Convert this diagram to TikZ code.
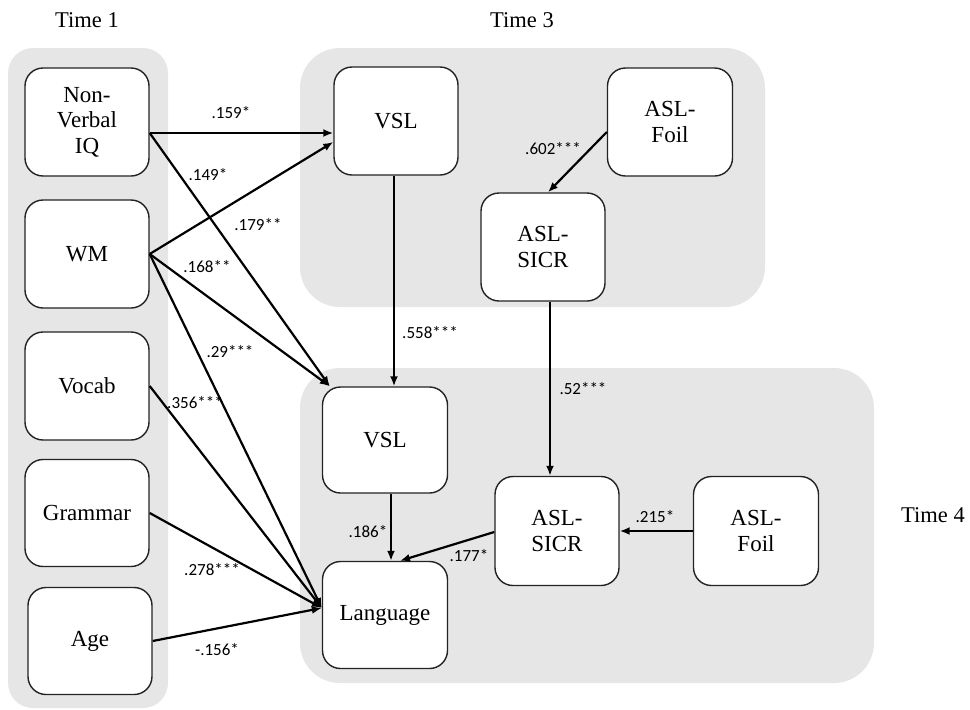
\documentclass[tikz,border=0pt]{standalone}
\usepackage{fontspec}
\setmainfont{Liberation Serif}
\newfontfamily\lblfont{Carlito}
\usetikzlibrary{arrows.meta,calc}
\definecolor{panelgray}{RGB}{230,230,230}
\definecolor{boxline}{RGB}{35,35,35}
\tikzset{
  panel/.style={fill=panelgray, draw=none},
  varbox/.style={draw=boxline, line width=1.4pt, fill=white, rounded corners=18pt,
    minimum width=124pt, minimum height=108pt, inner sep=0pt, align=center,
    font=\fontsize{23}{25.5}\selectfont},
  path/.style={line width=2.2pt, -{Latex[length=10pt,width=8pt]}},
  lbl/.style={font=\lblfont\fontsize{17}{19}\selectfont, inner sep=1pt},
  timelbl/.style={font=\fontsize{22.5}{25}\selectfont, inner sep=0pt}
}
\begin{document}
\begin{tikzpicture}[x=1pt,y=-1pt]
\useasboundingbox (0,0) rectangle (970,710);
% panels
\fill[panel, rounded corners=25pt] (8,48) rectangle (168,708);
\fill[panel, rounded corners=40pt] (300,48) rectangle (765,307);
\fill[panel, rounded corners=40pt] (300,368) rectangle (874,683);
% time labels
\node[timelbl] (t1) at (87,20) {Time 1};
\node[timelbl] (t3) at (522,20) {Time 3};
\node[timelbl] (t4) at (933,515) {Time 4};
% Time 1 boxes
\node[varbox] (nviq) at (87,122) {Non-\\Verbal\\IQ};
\node[varbox] (wm) at (87,254) {WM};
\node[varbox] (vocab) at (87,386) {Vocab};
\node[varbox, minimum height=107pt] (grammar) at (87,513) {Grammar};
\node[varbox, minimum height=107pt] (age) at (90,641) {Age};
% Time 3 boxes
\node[varbox] (vsl3) at (396,121) {VSL};
\node[varbox, minimum width=125pt] (foil3) at (670,122) {ASL-\\Foil};
\node[varbox] (sicr3) at (543,247) {ASL-\\SICR};
% Time 4 boxes
\node[varbox, minimum width=125pt, minimum height=106pt] (vsl4) at (385,440) {VSL};
\node[varbox, minimum width=125pt, minimum height=107pt] (lang) at (385,615) {Language};
\node[varbox, minimum height=109pt] (sicr4) at (557,531) {ASL-\\SICR};
\node[varbox, minimum width=125pt, minimum height=109pt] (foil4) at (756,531) {ASL-\\Foil};
% targets
\coordinate (langin) at ([yshift=7pt]lang.west);
\coordinate (vsl4in) at ([xshift=8pt]vsl4.north west);
% paths
\draw[path] ([yshift=-11pt]nviq.east) -- ([yshift=-12pt]vsl3.west);
\draw[path] ([yshift=-11pt]nviq.east) -- (vsl4in);
\draw[path] (wm.east) -- ([yshift=-21pt]vsl3.west);
\draw[path] (wm.east) -- (vsl4in);
\draw[path] (wm.east) -- (langin);
\draw[path] (vocab.east) -- (langin);
\draw[path] (grammar.east) -- (langin);
\draw[path] (age.east) -- (langin);
\draw[path] ([xshift=-2pt]vsl3.south) -- ([xshift=-2pt]vsl3.south |- vsl4.north);
\draw[path] ([xshift=6pt]vsl4.south) -- ([xshift=6pt]lang.north);
\draw[path] ([yshift=-1pt]sicr4.west) -- ([xshift=15pt]lang.north);
\draw[path] ([xshift=7pt]sicr3.south) -- ([xshift=7pt]sicr3.south |- sicr4.north);
\draw[path] (foil4.west) -- (sicr4.east);
\draw[path] ([yshift=-10pt]foil3.west) -- ([xshift=5pt]sicr3.north);
% labels
\node[lbl] (l1) at (231,113) {.159*};
\node[lbl] (l2) at (208,175) {.149*};
\node[lbl] (l3) at (258,225) {.179**};
\node[lbl] (l4) at (207,267) {.168**};
\node[lbl] (l5) at (230,352) {.29***};
\node[lbl] (l6) at (195,403) {.356***};
\node[lbl] (l7) at (212,570) {.278***};
\node[lbl] (l8) at (217,650) {-.156*};
\node[lbl] (l9) at (430,333) {.558***};
\node[lbl] (l10) at (368,532) {.186*};
\node[lbl] (l11) at (469,556) {.177*};
\node[lbl] (l12) at (583,389) {.52***};
\node[lbl] (l13) at (655,517) {.215*};
\node[lbl] (l14) at (553,149) {.602***};
\end{tikzpicture}
\end{document}
